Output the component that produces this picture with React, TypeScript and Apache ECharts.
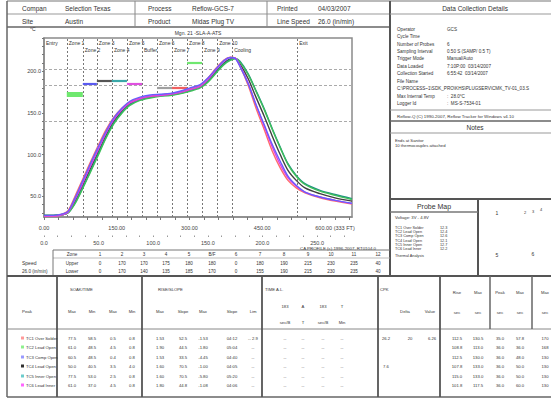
import React, { useEffect, useRef } from "react";
import * as echarts from "echarts";

const FONT = "'Liberation Sans', Arial, sans-serif";

// ---------------- profile data (time in s, temperature in °C)
const times = [0, 20, 40, 50, 64, 78, 95, 111, 128, 144, 161, 177, 198, 219, 239, 260, 280, 301, 322, 338, 355, 371, 384, 394, 404, 421, 437, 454, 470, 487, 503, 520, 538, 569, 600, 635];
const probeNames = ["TC1 Over Solder", "TC2 Lead Open", "TC3 Comp Open", "TC4 Lead Open", "TC5 Inner Open", "TC6 Lead Inner"];
const probeColors = ["#ff6b6b", "#3fbf5a", "#6a5cff", "#404040", "#1f8f84", "#e040e0"];
const legendColors = ["#ff9a9a", "#8ef08e", "#9a9aff", "#303030", "#6ccccc", "#ff66ff"];
const probe1 = [26, 26, 29, 33, 50, 68, 90, 110, 130, 145, 156, 163, 168, 170, 171.5, 173, 175, 179, 183.5, 192, 204, 213.5, 217, 216, 206, 183, 156, 130, 105, 84, 69, 60, 54, 48, 44, 40.5];
const probe2 = [27, 27, 28, 30, 41, 57, 78, 98, 120, 137, 150, 159, 165, 168, 170, 171, 173, 176, 180, 187, 198, 208, 213, 215, 211, 196, 176, 154, 131, 108, 88, 74, 64, 56, 51, 46];
const probe3 = [27, 27, 29, 32, 48, 66, 88, 108, 128, 144, 156, 164, 169, 171.5, 172.5, 173.5, 176, 180, 184, 192, 203, 213, 216.5, 215.5, 206, 185, 160, 136, 113, 92, 74, 63, 55, 49, 45, 41.5];
const probe4 = [27, 27, 28, 31, 44, 61, 82, 102, 123, 140, 152, 161, 166, 169, 171, 172, 174, 177.5, 181.5, 189, 200, 210, 215, 215.5, 209, 191, 169, 146, 123, 100, 81, 69, 60, 53, 48, 44];
const probe5 = [27, 27, 28, 30, 42, 58, 79, 100, 121, 138, 151, 160, 166, 169, 170.5, 171.5, 173.5, 177, 181, 188, 199, 209, 214, 215.5, 212, 197, 177, 155, 132, 109, 89, 75, 65, 57, 52, 47];
const probe6 = [26, 26, 28, 31, 46, 63, 85, 105, 126, 142, 154, 162, 167, 170, 171, 172.5, 174.5, 178, 182, 190, 202, 212, 216.5, 216, 207, 186, 160, 134, 110, 88, 72, 62, 55, 49, 45, 41];
const probeValues = [probe1, probe2, probe3, probe4, probe5, probe6];
const drawOrder = [3, 4, 1, 0, 5, 2];

const secTickLabels = [0, 150, 300, 450, 600];
const inchTickLabels = [0, 50, 100, 150, 200, 250];
const tempTickLabels = [50, 100, 150, 200];
const refLines = [203, 183, 140];

const zoneNames = ["Entry", "Zone 1", "Zone 2", "Zone 3", "Zone 4", "Zone 5", "Buffer", "Zone 6", "Zone 7", "Zone 8", "Zone 9", "Zone 10", "Cooling", "Exit"];
const zoneStarts = [0, 47, 80, 109, 140, 171, 202, 233, 264, 295, 326, 357, 388, 522];
const zoneEnds = [47, 80, 109, 140, 171, 202, 233, 264, 295, 326, 357, 388, 522, 635];
const zoneRows = [0, 0, 1, 0, 1, 0, 1, 0, 1, 0, 1, 0, 1, 0];

const setStarts = [47, 80, 109, 140, 171, 233, 264, 295];
const setEnds = [80, 109, 140, 171, 202, 264, 295, 326];
const setValues = [172, 185, 189, 189, 185, 180, 180, 210];
const setColors = ["#6fe86f", "#5a5af0", "#555555", "#3aa8a8", "#e050e0", "#a0a0a0", "#f06060", "#6fe86f"];

// ---------------- zone setpoint table
const spCols = ["1", "2", "3", "4", "5", "B/F", "6", "7", "8", "9", "10", "11", "12"];
const spUpper = ["0", "170", "170", "175", "180", "180", "0", "180", "190", "215", "230", "235", "40"];
const spLower = ["0", "170", "140", "135", "185", "170", "0", "155", "190", "215", "230", "235", "40"];

// ---------------- statistics table
const soakMax = ["77.5", "61.0", "60.5", "50.0", "77.5", "61.0"];
const soakMin = ["58.5", "48.5", "48.5", "40.5", "53.0", "37.0"];
const soakMax2 = ["0.5", "4.5", "0.4", "3.5", "2.5", "4.5"];
const soakMin2 = ["0.8", "0.8", "0.8", "4.0", "0.8", "0.8"];
const slopeMax = ["1.53", "1.90", "1.53", "1.60", "1.60", "1.80"];
const slopeVal = ["52.5", "44.5", "33.5", "70.5", "70.5", "44.8"];
const slopeMax2 = ["-1.53", "-1.80", "-4.45", "-1.00", "-5.80", "-1.08"];
const slopeTime = ["04:12", "05:04", "04:40", "04:05", "05:20", "04:06"];
const slopeLim = ["-- 2.9", "--", "--", "--", "--", "--"];
const talA = ["--", "--", "--", "--", "--", "--"];
const cpkA = ["26.2", "", "", "7.6", "", ""];
const cpkB = ["20", "", "", "", "", ""];
const cpkC = ["6.26", "", "", "", "", ""];
const rA = ["112.5", "108.8", "112.5", "107.8", "115.0", "101.8"];
const rB = ["130.5", "113.0", "130.0", "133.0", "133.0", "117.5"];
const rC = ["35.0", "36.0", "36.0", "36.0", "36.0", "36.0"];
const rD = ["57.8", "36.0", "48.0", "50.0", "50.0", "60.0"];
const rE = ["170", "168", "130", "130", "130", "130"];

const details: [string, string][] = [
  ["Operator", "GCS"],
  ["Cycle Time", ""],
  ["Number of Probes", "6"],
  ["Sampling Interval", "0.50 S (SAMP/ 0.5 T)"],
  ["Trigger Mode", "Manual/Auto"],
  ["Data Loaded", "7:10P:00  03/14/2007"],
  ["Collection Started", "6:55:42  03/14/2007"],
  ["File Name", ""],
  ["C:\\PROCESS~1\\SDK_PRO\\KHS\\PLUGSERV\\CMK_TV-01_03.S", ""],
  ["Max Internal Temp", ":  28.0°C"],
  ["Logger Id", ":  MS-S-7534-01"],
];
const probeMapVals = ["12.3", "12.4", "12.6", "12.1", "12.7", "12.2"];

function T(x: number, y: number, text: string, fs = 5, align = "left", fill = "#333") {
  return {
    type: "text", x, y, silent: true,
    style: { text, fontSize: fs, fontFamily: FONT, fill, align, verticalAlign: "middle" },
  };
}
function L(x1: number, y1: number, x2: number, y2: number, w = 1, c = "#777") {
  return { type: "line", silent: true, shape: { x1, y1, x2, y2 }, style: { stroke: c, lineWidth: w } };
}

function buildGraphics() {
  const g: any[] = [];
  // frame / header lines
  g.push(L(7, 1, 551, 1, 1.2, "#777"));
  g.push(L(7, 14, 390, 14, 1, "#999"));
  g.push(L(7, 27, 390, 27, 1.5, "#666"));
  g.push(L(7, 1, 7, 397, 1.5, "#666"));
  g.push(L(135, 1, 135, 27, 1, "#888"));
  g.push(L(267, 1, 267, 27, 1, "#888"));
  g.push(L(390, 1, 390, 276, 2, "#555"));
  g.push(L(390, 14, 551, 14, 1, "#999"));
  g.push(T(22, 8, "Compan", 6.5), T(65, 8, "Selection Texas", 6.5), T(148, 8, "Process", 6.5), T(192, 8, "Reflow-GCS-7", 6.5), T(277, 8, "Printed", 6.5), T(318, 8, "04/03/2007", 6.5));
  g.push(T(22, 21, "Site", 6.5), T(65, 21, "Austin", 6.5), T(148, 21, "Product", 6.5), T(192, 21, "Midas Plug TV", 6.5), T(277, 21, "Line Speed", 6.5), T(318, 21, "26.0 (in/min)", 6.5));
  g.push(T(475, 8, "Data Collection Details", 6.5, "center"));
  // details
  const dy = [29, 36, 44, 51, 58, 66, 73, 81, 88, 96, 103];
  details.forEach(([k, v], i) => {
    g.push(T(397, dy[i], k, 4.6));
    if (v) g.push(T(447, dy[i], v, 4.6));
  });
  g.push(L(390, 110, 551, 110, 1, "#999"));
  g.push(T(397, 116, "Reflow-Q (C) 1990-2007, Reflow Tracker for Windows v4.10", 4.4));
  g.push(L(390, 121, 551, 121, 1.5, "#666"));
  g.push(T(475, 127, "Notes", 6.5, "center"));
  g.push(L(390, 133, 551, 133, 1, "#999"));
  g.push(T(395, 140, "Ends at Sanitor", 4.2), T(395, 145, "10 thermocouples attached", 4.2));
  // probe map
  g.push(L(390, 199, 551, 199, 2, "#555"));
  g.push(L(478, 199, 478, 276, 2, "#555"));
  g.push(T(434, 206, "Probe Map", 7, "center"));
  g.push(L(390, 212, 478, 212, 1.5, "#777"));
  g.push(T(395, 217, "Voltage: 3V - 4.8V", 4.2));
  probeNames.forEach((n, i) => {
    g.push(T(395, 228 + i * 4.2, n, 3.8), T(440, 228 + i * 4.2, probeMapVals[i], 3.8));
  });
  g.push(T(395, 256, "Thermal Analysis", 3.8));
  g.push(T(497, 213, "1", 5, "center"), T(525, 212, "2", 4, "center"), T(533, 211, "3", 4, "center"), T(541, 209, "4", 4, "center"));
  g.push(T(497, 255, "5", 5, "center"), T(533, 254, "6", 5, "center"));
  // chart annotations
  g.push(T(30, 29, "°C", 5));
  g.push(T(198, 33, "Mgn. 21 -SLA-A-ATS", 5, "center"));
  g.push(T(300, 248, "CA PROFILE (c) 1996-2007, RT0104.0", 4.4));
  // setpoint table
  g.push(L(53, 250, 390, 250, 1, "#777"), L(53, 258, 390, 258, 0.8, "#aaa"), L(53, 250, 53, 276, 1, "#777"));
  g.push(T(22, 263, "Speed", 5), T(22, 271, "26.0 (in/min)", 4.6));
  g.push(T(72, 254, "Zone", 4.6, "center"), T(72, 263, "Upper", 4.6, "center"), T(72, 271, "Lower", 4.6, "center"));
  const spX = [100, 122, 144, 166, 189, 212, 236, 260, 284, 308, 331, 354, 378];
  spCols.forEach((c, i) => {
    g.push(T(spX[i], 254, c, 4.6, "center"), T(spX[i], 263, spUpper[i], 4.6, "center"), T(spX[i], 271, spLower[i], 4.6, "center"));
  });
  // statistics table lines
  g.push(L(7, 276, 551, 276, 2, "#555"), L(7, 329, 551, 329, 1, "#888"), L(7, 397, 551, 397, 1.5, "#666"));
  [57, 142, 262, 378, 440].forEach((x) => g.push(L(x, 276, x, 397, 1.8, "#555")));
  [490, 532].forEach((x) => g.push(L(x, 276, x, 329, 1.5, "#666")));
  g.push(T(70, 289, "SOAK/TIME", 4.2), T(158, 289, "RISE/SLOPE", 4.2), T(265, 289, "TIME A.L.", 4.2), T(380, 289, "CPK", 4.2));
  g.push(T(22, 311, "Peak", 4.4));
  const hx = [72, 92, 113, 132, 160, 183, 203, 232, 253];
  ["Max", "Min", "Max", "Min", "Max", "Slope", "Max", "Slope", "Lim"].forEach((h, i) => g.push(T(hx[i], 311, h, 4.2, "center")));
  const tx = [285, 303, 323, 342];
  ["183", "A", "183", "T"].forEach((h, i) => g.push(T(tx[i], 306, h, 4.2, "center")));
  ["sec/B", "T", "sec/B", "Min"].forEach((h, i) => g.push(T(tx[i], 322, h, 4.2, "center")));
  g.push(T(405, 311, "Delta", 4.2, "center"), T(430, 311, "Value", 4.2, "center"));
  const rx = [457, 478, 500, 520, 545];
  ["Rise", "Max", "Peak", "Max", "Max"].forEach((h, i) => g.push(T(rx[i], 292, h, 4.2, "center")));
  ["sec", "sec", "sec", "sec", "sec"].forEach((h, i) => g.push(T(rx[i], 312, h, 4.2, "center")));
  const rowY = [338, 347, 357, 366, 376, 385];
  probeNames.forEach((n, i) => {
    const y = rowY[i];
    g.push({ type: "rect", silent: true, shape: { x: 21, y: y - 1.5, width: 3, height: 3 }, style: { fill: legendColors[i] } });
    g.push(T(26, y, n, 4.2));
    const cols: [number, string][] = [
      [72, soakMax[i]], [92, soakMin[i]], [113, soakMax2[i]], [132, soakMin2[i]],
      [160, slopeMax[i]], [183, slopeVal[i]], [203, slopeMax2[i]], [232, slopeTime[i]], [253, slopeLim[i]],
      [285, talA[i]], [303, talA[i]], [323, talA[i]], [342, talA[i]],
      [386, cpkA[i]], [410, cpkB[i]], [432, cpkC[i]],
      [457, rA[i]], [478, rB[i]], [500, rC[i]], [520, rD[i]], [545, rE[i]],
    ];
    cols.forEach(([x, v]) => { if (v) g.push(T(x, y, v, 4.2, "center")); });
  });
  return g;
}

function buildOption() {
  const markLineData: any[] = [];
  zoneStarts.slice(1).forEach((v) => markLineData.push({ xAxis: v, lineStyle: { color: "#777", width: 1, type: [2, 2] } }));
  refLines.forEach((v) => markLineData.push({ yAxis: v, lineStyle: { color: "#aaa", width: 1, type: [3, 2] } }));
  setValues.forEach((v, i) =>
    markLineData.push([
      { coord: [setStarts[i], v], lineStyle: { color: setColors[i], width: i === 0 ? 5 : 2.2, type: "solid" } },
      { coord: [setEnds[i], v] },
    ])
  );
  const series: any[] = drawOrder.map((pi, k) => ({
    name: probeNames[pi],
    type: "line",
    showSymbol: false,
    smooth: 0.3,
    lineStyle: { color: probeColors[pi], width: 1.4 },
    itemStyle: { color: probeColors[pi] },
    data: times.map((t, j) => [t, probeValues[pi][j]]),
    z: 3 + k,
    ...(k === 0
      ? {
          markLine: { silent: true, symbol: "none", label: { show: false }, data: markLineData, z: 2 },
          markArea: {
            silent: true,
            itemStyle: { color: "rgba(0,0,0,0)" },
            label: { show: true, position: "insideTopLeft", distance: 2, fontSize: 5, color: "#333", fontFamily: FONT },
            data: zoneNames.map((n, i) => [
              { xAxis: zoneStarts[i], name: n, label: { offset: [0, zoneRows[i] * 7] } },
              { xAxis: zoneEnds[i] },
            ]),
          },
        }
      : {}),
  }));

  const secMinor: number[] = [];
  for (let v = 0; v <= 630; v += 30) secMinor.push(v);
  const inchMinor: number[] = [];
  for (let v = 0; v <= 281; v += 12.5) inchMinor.push(v);
  const tempMinor: number[] = [];
  for (let v = 30; v <= 240; v += 10) tempMinor.push(v);

  return {
    animation: false,
    backgroundColor: "#fff",
    textStyle: { fontFamily: FONT },
    grid: { left: 44, top: 38, width: 308, height: 179, show: true, borderColor: "#8a8a8a", borderWidth: 1.5, backgroundColor: "transparent" },
    xAxis: [
      {
        type: "value", min: 0, max: 635,
        axisLine: { show: true, lineStyle: { color: "#8a8a8a", width: 1.5 } },
        axisTick: { show: true, customValues: secMinor, length: 3, lineStyle: { color: "#777" } },
        axisLabel: {
          customValues: secTickLabels, fontSize: 5.5, color: "#444", margin: 8,
          formatter: (v: number) => (v === 600 ? "600.00 (333 FT)" : v.toFixed(2)),
        },
        splitLine: { show: false },
      },
      {
        type: "value", min: 0, max: 282, position: "bottom", offset: 20,
        axisLine: { show: false },
        axisTick: { show: true, customValues: inchMinor, length: 1.5, inside: true, lineStyle: { color: "#999" } },
        axisLabel: { customValues: inchTickLabels, fontSize: 5.5, color: "#444", margin: 3, formatter: (v: number) => v.toFixed(1) },
        splitLine: { show: false },
      },
    ],
    yAxis: {
      type: "value", min: 25, max: 240,
      axisLine: { show: true, lineStyle: { color: "#8a8a8a", width: 1.5 } },
      axisTick: { show: true, customValues: tempMinor, length: 2, lineStyle: { color: "#777" } },
      axisLabel: { customValues: tempTickLabels, fontSize: 5.5, color: "#444", margin: 3, formatter: (v: number) => v.toFixed(1) },
      splitLine: { show: false },
    },
    series,
    graphic: { elements: buildGraphics() },
  };
}

export default function App() {
  const ref = useRef<HTMLDivElement>(null);
  useEffect(() => {
    const chart = echarts.init(ref.current!, undefined, { renderer: "svg" });
    chart.setOption(buildOption() as any);
    return () => chart.dispose();
  }, []);
  return (
    <div
      ref={ref}
      style={{ position: "absolute", left: 0, top: 0, width: 551, height: 398, background: "#fff" }}
    />
  );
}
